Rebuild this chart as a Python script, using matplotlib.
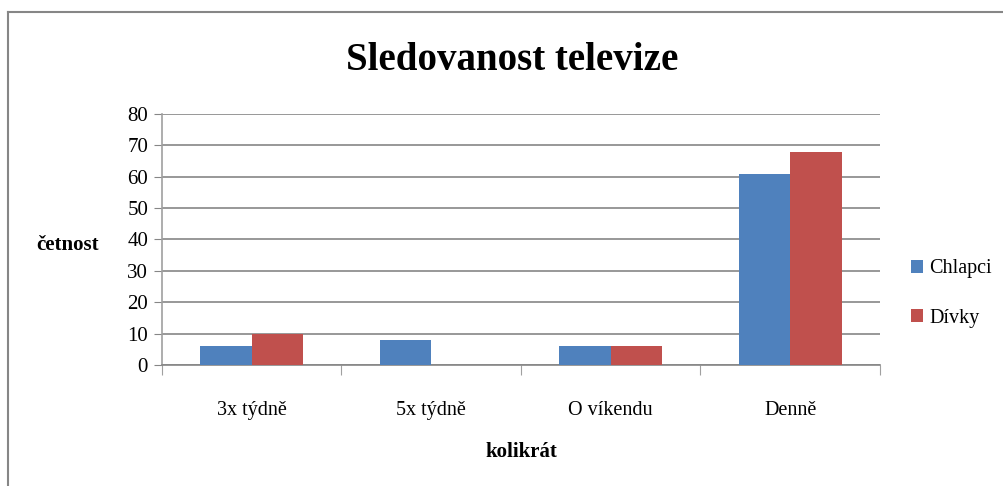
import matplotlib
matplotlib.use("Agg")
import matplotlib.pyplot as plt
import numpy as np
from matplotlib.lines import Line2D

categories = ["3x týdně", "5x týdně", "O víkendu", "Denně"]
chlapci = [6, 8, 6, 61]
divky = [10, 0, 6, 68]
series_names = ["Chlapci", "Dívky"]
colors = ["#4F81BD", "#C0504D"]
yticks = [0, 10, 20, 30, 40, 50, 60, 70, 80]

plt.rcParams['font.family'] = ['Liberation Serif', 'DejaVu Serif']

W, H = 1004, 486
fig = plt.figure(figsize=(W/100, H/100), dpi=100)
fig.lines.append(Line2D([8/W, 8/W], [0, 1 - 12/H], transform=fig.transFigure,
                        color="#868686", linewidth=1.5))
fig.lines.append(Line2D([8/W, 1], [1 - 12/H, 1 - 12/H], transform=fig.transFigure,
                        color="#868686", linewidth=1.5))

ax = fig.add_axes([162/W, (H-365)/H, (880-162)/W, (365-114)/H])
x = np.arange(len(categories))
w = 1/3.5
ax.bar(x - w/2, chlapci, w, color=colors[0], label=series_names[0], zorder=3)
ax.bar(x + w/2, divky, w, color=colors[1], label=series_names[1], zorder=3)

ax.set_xlim(-0.5, len(categories) - 0.5)
ax.set_ylim(0, 80)
ax.set_yticks(yticks)
ax.yaxis.grid(True, color="#868686", linewidth=1.2, zorder=0)
ax.set_axisbelow(True)
for s in ["top", "right"]:
    ax.spines[s].set_visible(False)
ax.spines["left"].set_color("#A0A0A0")
ax.spines["bottom"].set_color("#868686")
ax.spines["left"].set_linewidth(1.2)
ax.spines["bottom"].set_linewidth(1.2)

ax.set_xticks(np.arange(-0.5, len(categories)), minor=False)
ax.set_xticklabels([])
ax.set_xticks(x, minor=True)
ax.set_xticklabels(categories, minor=True, fontsize=14.5)
ax.tick_params(axis="x", which="major", length=7, color="#A0A0A0", direction="out")
ax.tick_params(axis="x", which="minor", length=0, pad=26)
ax.tick_params(axis="y", length=6, color="#868686", labelsize=15, pad=4)

ax.set_xlabel("kolikrát", fontsize=15, fontweight="bold", labelpad=16)
ax.set_ylabel("četnost", fontsize=15, fontweight="bold", rotation=0, labelpad=0)
ax.yaxis.set_label_coords(-0.132, 0.44)

fig.text(512/W, 1 - 60/H, "Sledovanost televize", ha="center", va="center",
         fontsize=28, fontweight="bold")

leg = ax.legend(loc="center left", bbox_to_anchor=(1.018, 0.285), frameon=False,
                fontsize=14.5, handlelength=0.6, handleheight=0.6, handletextpad=0.3,
                labelspacing=1.5)

fig.savefig("out.png", dpi=100)
